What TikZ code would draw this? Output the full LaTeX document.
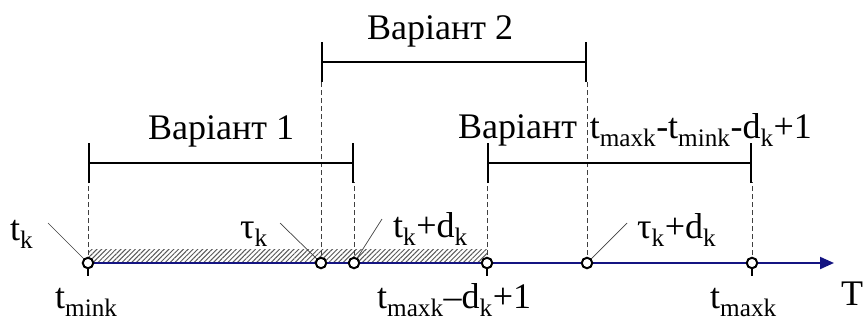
\documentclass[tikz,border=0pt]{standalone}
\usepackage{fontspec}
\setmainfont{Liberation Serif}
\usetikzlibrary{arrows.meta,patterns.meta}
\definecolor{axisblue}{RGB}{20,20,130}
\tikzset{
  lbl/.style={anchor=base west, inner sep=0pt, font=\fontsize{36}{40}\selectfont},
  bar/.style={line width=2pt, {Bar[width=40pt]}-{Bar[width=40pt]}},
  guide/.style={line width=0.8pt, dash pattern=on 5pt off 3pt, black!75},
  leader/.style={line width=0.7pt, black!75},
  pt/.style={circle, draw, fill=white, line width=2pt, minimum size=10.5pt, inner sep=0pt},
}
\begin{document}
\begin{tikzpicture}[x=1pt, y=-1pt]
  \useasboundingbox (0,0) rectangle (863,322);

  % points on the time axis
  \coordinate (tmin) at (88,263);
  \coordinate (tau)  at (321,263);
  \coordinate (tkd)  at (354,263);
  \coordinate (tmd)  at (487,263);
  \coordinate (taud) at (587,263);
  \coordinate (tmax) at (752,263);
  \coordinate (tend) at (834,263);

  % lower ends of the bar ticks
  \coordinate (lo1) at (0,182);
  \coordinate (lo2) at (0,82);

  % hatched interval
  \fill[pattern={Lines[angle=45,distance=3.4pt,line width=1pt]}, pattern color=black!65]
    (88,249) rectangle (487,263);

  % time axis
  \draw[axisblue, line width=2pt, -{Triangle[length=14pt,width=12pt]}] (tmin) -- (tend);
  \foreach \p in {tmin,tmd,tmax}
    \draw[line width=1.5pt] (\p) -- ++(0,13);

  % guides
  \draw[guide] (tmin) -- (tmin |- lo1);
  \draw[guide] (tkd) -- (tkd |- lo1);
  \draw[guide] (tmd) -- (tmd |- lo1);
  \draw[guide] (tmax) -- (tmax |- lo1);
  \draw[guide] (tau) -- (tau |- lo2);
  \draw[guide] (taud) -- (taud |- lo2);

  % variants
  \coordinate (v1a) at (88,163);  \coordinate (v1b) at (354,163);
  \coordinate (v2a) at (321,62);  \coordinate (v2b) at (587,62);
  \coordinate (v3a) at (487,163); \coordinate (v3b) at (752,163);
  \foreach \a/\b in {v1a/v1b,v2a/v2b,v3a/v3b}
    \draw[bar] (\a) -- (\b);

  \node[lbl] (lv2) at (367,39) {Варіант 2};
  \node[lbl] (lv1) at (148,139) {Варіант 1};
  \node[lbl] (lv3) at (458,138) {Варіант\hspace{0.35em}t\textsubscript{maxk}-t\textsubscript{mink}-d\textsubscript{k}+1};

  % labels above the axis
  \node[lbl] (ltk)   at (10,240)  {t\textsubscript{k}};
  \node[lbl] (ltau)  at (240,238) {τ\textsubscript{k}};
  \node[lbl] (ltkd)  at (393,237) {t\textsubscript{k}+d\textsubscript{k}};
  \node[lbl] (ltaud) at (637,238) {τ\textsubscript{k}+d\textsubscript{k}};

  \coordinate (ltk-e)   at (48,223);
  \coordinate (ltau-e)  at (280,223);
  \coordinate (ltkd-e)  at (382,219);
  \coordinate (ltaud-e) at (627,223);
  \draw[leader] (ltk-e) -- (tmin);
  \draw[leader] (ltau-e) -- (tau);
  \draw[leader] (ltkd-e) -- (tkd);
  \draw[leader] (ltaud-e) -- (taud);

  % labels below the axis
  \node[lbl] (ltmin) at (55,308)  {t\textsubscript{mink}};
  \node[lbl] (ltmd)  at (377,308) {t\textsubscript{maxk}–d\textsubscript{k}+1};
  \node[lbl] (ltmax) at (710,308) {t\textsubscript{maxk}};
  \node[lbl] (lT)    at (841,305) {T};

  % point marks
  \foreach \p in {tmin,tau,tkd,tmd,taud,tmax}
    \node[pt] (c-\p) at (\p) {};
\end{tikzpicture}
\end{document}
